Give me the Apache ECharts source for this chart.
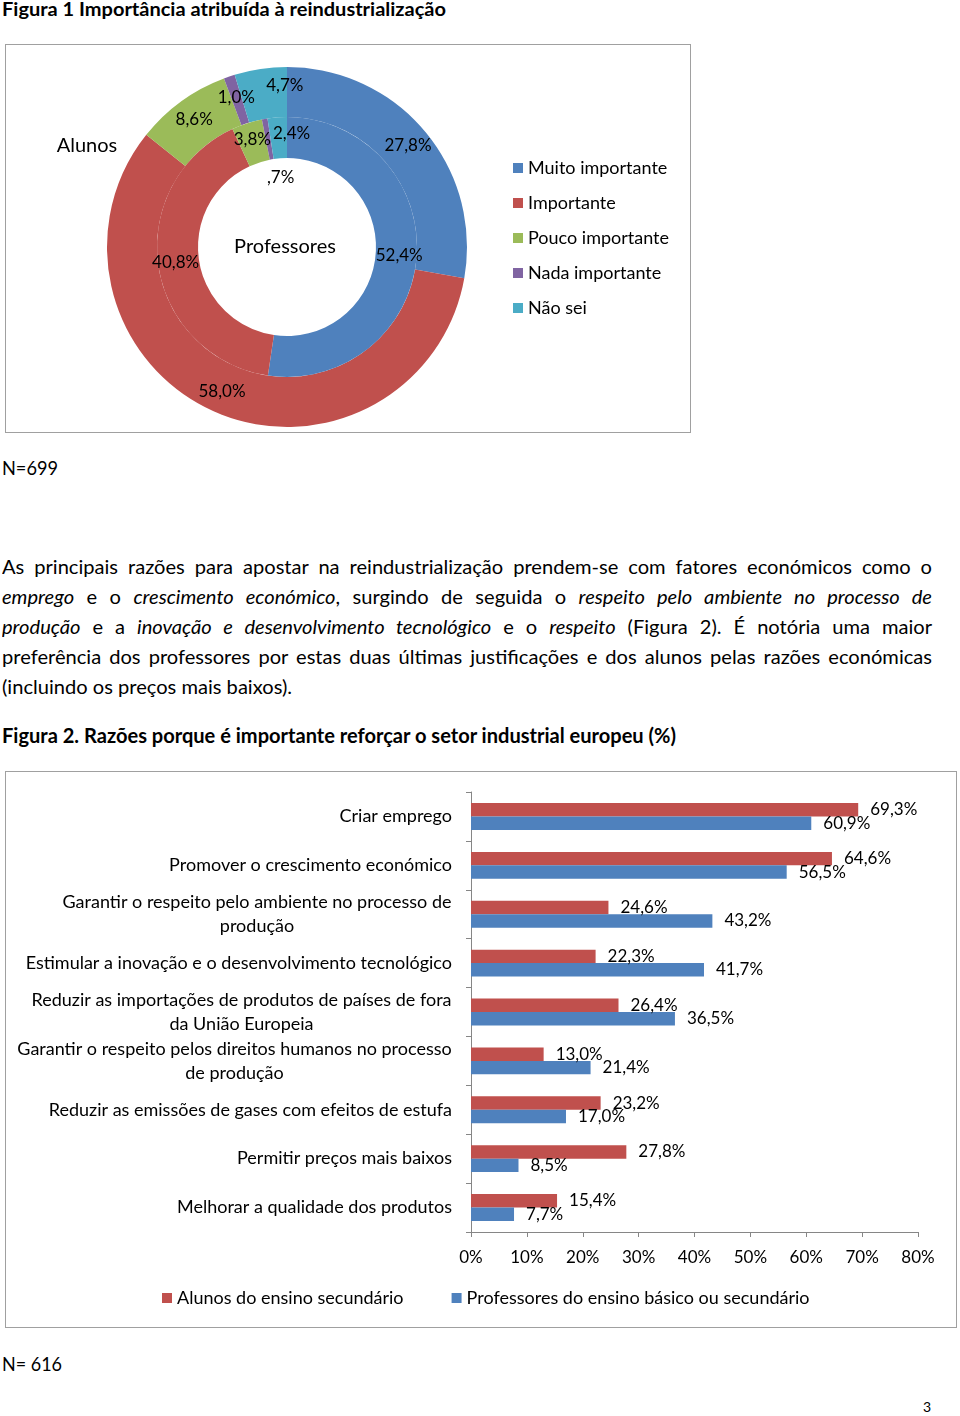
<!DOCTYPE html>
<html><head><meta charset="utf-8">
<script src="https://cdn.jsdelivr.net/npm/echarts@6/dist/echarts.min.js"></script>
<style>
html,body{margin:0;padding:0;background:#fff;}
body{width:960px;height:1416px;position:relative;overflow:hidden;font-family:Lato,'Noto Sans',sans-serif;color:#000;}
.t{position:absolute;white-space:nowrap;transform-origin:0 50%;height:30px;line-height:30px;}
.pl{position:absolute;left:2px;white-space:nowrap;transform-origin:0 50%;height:30px;line-height:30px;font-size:20px;}
.frame{position:absolute;border:1px solid #a0a0a0;box-sizing:border-box;pointer-events:none;}
.chart{position:absolute;}
</style></head><body>
<div class="t" style="left:2px;top:-6px;font-weight:bold;font-size:19px" data-w="444">Figura 1 Importância atribuída à reindustrialização</div>
<div class="chart" id="c1" style="left:5px;top:44px;width:686px;height:389px"></div>
<div class="frame" style="left:5px;top:44px;width:686px;height:389px"></div>
<div class="t" style="left:2px;top:453px;font-size:19px" data-w="56">N=699</div>
<div class="pl" style="top:551px">As principais razões para apostar na reindustrialização prendem-se com fatores económicos como o</div>
<div class="pl" style="top:581px"><i>emprego</i> e o <i>crescimento económico</i>, surgindo de seguida o <i>respeito pelo ambiente no processo de</i></div>
<div class="pl" style="top:611px"><i>produção</i> e a <i>inovação e desenvolvimento tecnológico</i> e o <i>respeito</i> (Figura 2). É notória uma maior</div>
<div class="pl" style="top:641px">preferência dos professores por estas duas últimas justificações e dos alunos pelas razões económicas</div>
<div class="pl" style="top:671px">(incluindo os preços mais baixos).</div>
<div class="t" style="left:2px;top:720px;font-weight:bold;font-size:20px" data-w="674">Figura 2. Razões porque é importante reforçar o setor industrial europeu (%)</div>
<div class="chart" id="c2" style="left:5px;top:771px;width:952px;height:557px"></div>
<div class="frame" style="left:5px;top:771px;width:952px;height:557px"></div>
<div class="t" style="left:2px;top:1348px;font-size:20px" data-w="60">N= 616</div>
<div class="t" style="left:923px;top:1392px;font-size:14px">3</div>
<script>
// ---------- Figure 1 data ----------
const importanceLevels = ['Muito importante', 'Importante', 'Pouco importante', 'Nada importante', 'Não sei'];
const alunosValues = [27.8, 58.0, 8.6, 1.0, 4.7];
const professoresValues = [52.4, 40.8, 3.8, 0.7, 2.4];
const ringNames = ['Alunos', 'Professores'];

// ---------- Figure 2 data ----------
const reasons = [
  'Criar emprego',
  'Promover o crescimento económico',
  'Garantir o respeito pelo ambiente no processo de\nprodução',
  'Estimular a inovação e o desenvolvimento tecnológico',
  'Reduzir as importações de produtos de países de fora\nda União Europeia',
  'Garantir o respeito pelos direitos humanos no processo\nde produção',
  'Reduzir as emissões de gases com efeitos de estufa',
  'Permitir preços mais baixos',
  'Melhorar a qualidade dos produtos'
];
const alunosReasons = [69.3, 64.6, 24.6, 22.3, 26.4, 13.0, 23.2, 27.8, 15.4];
const professoresReasons = [60.9, 56.5, 43.2, 41.7, 36.5, 21.4, 17.0, 8.5, 7.7];
const seriesNames2 = ['Alunos do ensino secundário', 'Professores do ensino básico ou secundário'];
const xTicks = [0, 10, 20, 30, 40, 50, 60, 70, 80];

// ---------- page text fitting ----------
document.querySelectorAll('[data-w]').forEach(el => {
  const w = el.getBoundingClientRect().width;
  el.style.transform = 'scaleX(' + (el.dataset.w / w) + ')';
});
(function () {
  const lines = Array.from(document.querySelectorAll('.pl'));
  const last = lines[lines.length - 1];
  const s = 290 / last.getBoundingClientRect().width;
  lines.forEach((el, i) => {
    if (i < lines.length - 1) {
      const w = el.getBoundingClientRect().width;
      const n = (el.textContent.match(/ /g) || []).length;
      el.style.wordSpacing = ((930 / s - w) / n) + 'px';
    }
    el.style.transform = 'scaleX(' + s + ')';
  });
})();

const FONT = 'Lato';
const palette = ['#4F81BD', '#C0504D', '#9BBB59', '#8064A2', '#4BACC6'];
const fmtPct = v => v.toFixed(1).replace('.', ',').replace(/^0/, '') + '%';

// ---------- Chart 1 ----------
const c1 = echarts.init(document.getElementById('c1'), null, { renderer: 'canvas' });
// small nudges of crowded labels (as in the original layout)
const outerNudge = { 4: [21, -5] };
const innerNudge = { 3: [13, 41], 4: [13, -1] };
function pieData(vals, nudge) {
  return vals.map((v, i) => {
    const d = { name: importanceLevels[i], value: v };
    if (nudge[i]) d.label = { offset: nudge[i] };
    return d;
  });
}
const pieLabel = { show: true, position: 'inside', color: '#000', fontSize: 17, fontFamily: FONT,
  formatter: p => fmtPct(p.value) };
c1.setOption({
  animation: false,
  color: palette,
  legend: {
    orient: 'vertical', left: 503, top: 109, itemWidth: 10, itemHeight: 10, itemGap: 15,
    icon: 'rect', data: importanceLevels,
    textStyle: { fontSize: 18, fontFamily: FONT, color: '#000', lineHeight: 20 }
  },
  graphic: [
    { type: 'text', x: 82, y: 102, style: { text: ringNames[0], fontSize: 20, fontFamily: FONT, fill: '#000', align: 'center', verticalAlign: 'middle' } },
    { type: 'text', x: 280, y: 203, style: { text: ringNames[1], fontSize: 20, fontFamily: FONT, fill: '#000', align: 'center', verticalAlign: 'middle' } }
  ],
  series: [
    { name: ringNames[0], type: 'pie', center: [282, 203], radius: [130, 180], startAngle: 90, clockwise: true,
      avoidLabelOverlap: false, label: pieLabel, labelLine: { show: false }, emphasis: { disabled: true },
      data: pieData(alunosValues, outerNudge) },
    { name: ringNames[1], type: 'pie', center: [282, 203], radius: [89, 130], startAngle: 90, clockwise: true,
      avoidLabelOverlap: false, label: pieLabel, labelLine: { show: false }, emphasis: { disabled: true },
      data: pieData(professoresValues, innerNudge) }
  ]
});

// ---------- Chart 2 ----------
const ctx = document.createElement('canvas').getContext('2d');
ctx.font = '18px ' + FONT;
const rich = {};
reasons.forEach((c, i) => {
  const ls = c.split('\n');
  if (ls.length > 1) {
    rich['c' + i] = { width: Math.ceil(Math.max(...ls.map(l => ctx.measureText(l).width))), align: 'center',
      fontSize: 18, lineHeight: 24, fontFamily: FONT, color: '#000' };
  }
});
const c2 = echarts.init(document.getElementById('c2'), null, { renderer: 'canvas' });
const barLabel = { show: true, position: 'right', distance: 12, fontSize: 17, fontFamily: FONT, color: '#000',
  formatter: p => fmtPct(p.value) };
c2.setOption({
  animation: false,
  legend: {
    left: 152, top: 512, itemWidth: 10, itemHeight: 10, itemGap: 48, icon: 'rect',
    data: seriesNames2,
    textStyle: { fontSize: 18, fontFamily: FONT, color: '#000', lineHeight: 20 }
  },
  grid: { left: 466, right: 39, top: 21, bottom: 96, containLabel: false },
  xAxis: {
    type: 'value', min: xTicks[0], max: xTicks[xTicks.length - 1], interval: xTicks[1] - xTicks[0],
    axisLine: { show: true, lineStyle: { color: '#868686' } },
    axisTick: { show: true, length: 5, lineStyle: { color: '#868686' } },
    splitLine: { show: false },
    axisLabel: { formatter: v => v + '%', fontSize: 17, fontFamily: FONT, color: '#000', margin: 17 }
  },
  yAxis: {
    type: 'category', inverse: true, data: reasons,
    axisLine: { show: true, lineStyle: { color: '#868686' } },
    axisTick: { show: true, length: 5, lineStyle: { color: '#868686' } },
    axisLabel: {
      fontSize: 18, fontFamily: FONT, color: '#000', margin: 19, lineHeight: 24, interval: 0,
      formatter: (v, i) => {
        const ls = v.split('\n');
        return ls.length > 1 ? ls.map(l => '{c' + i + '|' + l + '}').join('\n') : v;
      },
      rich: rich
    }
  },
  series: [
    { name: seriesNames2[0], type: 'bar', data: alunosReasons, itemStyle: { color: '#C0504D' },
      barGap: '0%', barCategoryGap: '45%', label: barLabel, emphasis: { disabled: true } },
    { name: seriesNames2[1], type: 'bar', data: professoresReasons, itemStyle: { color: '#4F81BD' },
      barGap: '0%', barCategoryGap: '45%', label: barLabel, emphasis: { disabled: true } }
  ]
});
</script>
</body></html>
